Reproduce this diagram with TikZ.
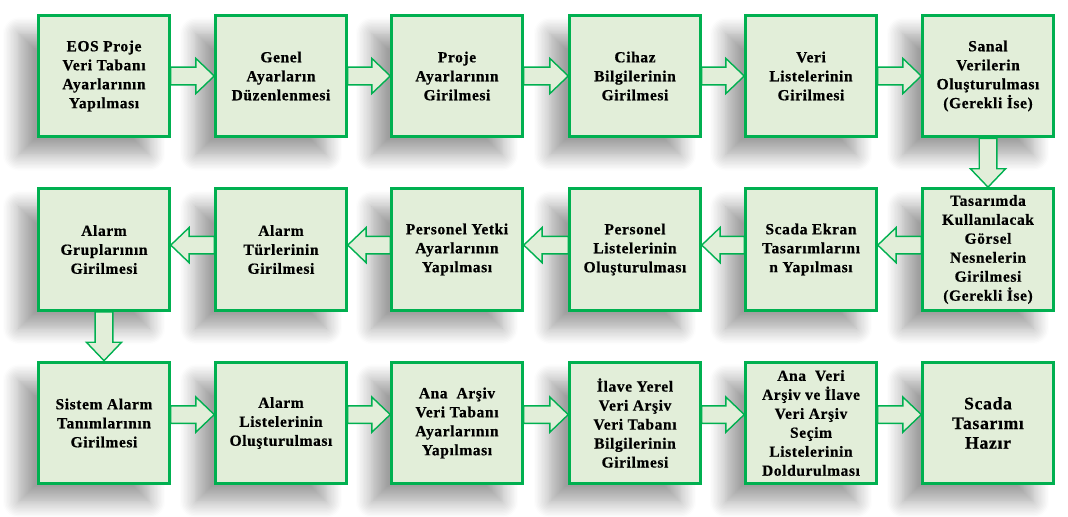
\documentclass[tikz,border=0pt]{standalone}
\usepackage{fontspec}
\setmainfont{Liberation Serif}[LetterSpace=4, BoldFeatures={FakeBold=0.6}]
\usepackage{tikz}
\usetikzlibrary{calc,shadows.blur}
\definecolor{boxgreen}{RGB}{0,176,80}
\definecolor{boxfill}{RGB}{226,238,217}

% fat arrow from one box to the next
\newcommand{\blockarrow}[3][0pt]{%
  \coordinate (arrtail) at ([yshift=#1]#2);
  \coordinate (arrtip) at ([yshift=#1]#3);
  \coordinate (arrhead) at ($(arrtip)!4.6mm!(arrtail)$);
  \draw [flowarrow] ($(arrtail)!2.2mm!90:(arrtip)$) -- ($(arrhead)!2.2mm!90:(arrtip)$)
     -- ($(arrhead)!4.4mm!90:(arrtip)$) -- (arrtip) -- ($(arrhead)!4.4mm!-90:(arrtip)$)
     -- ($(arrhead)!2.2mm!-90:(arrtip)$) -- ($(arrtail)!2.2mm!-90:(arrtip)$) -- cycle;}

\begin{document}
\begin{tikzpicture}[x=0.25mm,y=-0.25mm,
    stepbox/.style={draw=boxgreen, line width=2.2pt, fill=boxfill, align=center,
        minimum width=32.6mm, minimum height=30.4mm, inner sep=1pt,
        font=\bfseries\fontsize{11}{13.5}\selectfont,
        blur shadow={shadow xshift=-5mm, shadow yshift=-4.5mm, shadow blur radius=4mm,
            shadow blur steps=12, shadow opacity=38},
        append after command={\pgfextra{\draw [white, line width=0.6pt]
            ([shift={(2.7pt,-2.7pt)}]\tikzlastnode.north west) rectangle ([shift={(-2.7pt,2.7pt)}]\tikzlastnode.south east);}}},
    flowarrow/.style={draw=boxgreen, line width=1pt, fill=boxfill, line join=miter}]

   \useasboundingbox (0,0) rectangle (1068,516);

   % first row
   \node [stepbox] (b1) at (104,76) {EOS Proje\\Veri Tabanı\\Ayarlarının\\Yapılması};
   \node [stepbox] (b2) at (281,76) {Genel\\Ayarların\\Düzenlenmesi};
   \node [stepbox] (b3) at (457,76) {Proje\\Ayarlarının\\Girilmesi};
   \node [stepbox] (b4) at (635,76) {Cihaz\\Bilgilerinin\\Girilmesi};
   \node [stepbox] (b5) at (811,76) {Veri\\Listelerinin\\Girilmesi};
   \node [stepbox] (b6) at (988,76) {Sanal\\Verilerin\\Oluşturulması\\(Gerekli İse)};

   % second row
   \node [stepbox] (b7) at (988,249.5) {Tasarımda\\Kullanılacak\\Görsel\\Nesnelerin\\Girilmesi\\(Gerekli İse)};
   \node [stepbox] (b8) at (811,249.5) {Scada Ekran\\Tasarımlarını\\n Yapılması};
   \node [stepbox] (b9) at (635,249.5) {Personel\\Listelerinin\\Oluşturulması};
   \node [stepbox] (b10) at (457,249.5) {Personel Yetki\\Ayarlarının\\Yapılması};
   \node [stepbox] (b11) at (281,249.5) {Alarm\\Türlerinin\\Girilmesi};
   \node [stepbox] (b12) at (104,249.5) {Alarm\\Gruplarının\\Girilmesi};

   % third row
   \node [stepbox] (b13) at (104,423) {Sistem Alarm\\Tanımlarının\\Girilmesi};
   \node [stepbox] (b14) at (281,423) {Alarm\\Listelerinin\\Oluşturulması};
   \node [stepbox] (b15) at (457,423) {Ana~ Arşiv\\Veri Tabanı\\Ayarlarının\\Yapılması};
   \node [stepbox] (b16) at (635,423) {İlave Yerel\\Veri Arşiv\\Veri Tabanı\\Bilgilerinin\\Girilmesi};
   \node [stepbox] (b17) at (811,423) {Ana~ Veri\\Arşiv ve İlave\\Veri Arşiv\\Seçim\\Listelerinin\\Doldurulması};
   \node [stepbox, font=\bfseries\fontsize{12.5}{14}\selectfont] (b18) at (988,423) {Scada\\Tasarımı\\Hazır};

   % arrows
   \blockarrow{b1.east}{b2.west}
   \blockarrow{b2.east}{b3.west}
   \blockarrow{b3.east}{b4.west}
   \blockarrow{b4.east}{b5.west}
   \blockarrow{b5.east}{b6.west}
   \blockarrow{b6.south}{b7.north}
   \blockarrow[1.1mm]{b7.west}{b8.east}
   \blockarrow[1.1mm]{b8.west}{b9.east}
   \blockarrow[1.1mm]{b9.west}{b10.east}
   \blockarrow[1.1mm]{b10.west}{b11.east}
   \blockarrow[1.1mm]{b11.west}{b12.east}
   \blockarrow{b12.south}{b13.north}
   \blockarrow[2.1mm]{b13.east}{b14.west}
   \blockarrow[2.1mm]{b14.east}{b15.west}
   \blockarrow[2.1mm]{b15.east}{b16.west}
   \blockarrow[2.1mm]{b16.east}{b17.west}
   \blockarrow[2.1mm]{b17.east}{b18.west}

\end{tikzpicture}
\end{document}
